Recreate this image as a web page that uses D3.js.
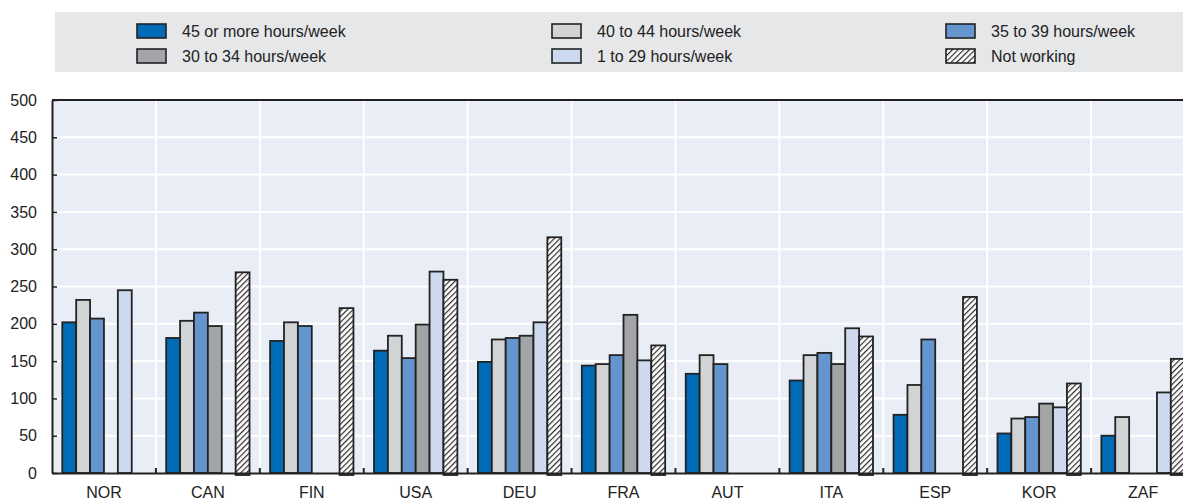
<!DOCTYPE html>
<html>
<head>
<meta charset="utf-8">
<script src="https://cdn.jsdelivr.net/npm/d3@7"></script>
<style>
  body { margin: 0; background: #fff; }
  svg text { font-family: "Liberation Sans Narrow", "Arial Narrow", "Liberation Sans", sans-serif; fill: #222; }
</style>
</head>
<body>
<div class="chart"></div>
<script>
// data
var countries = ["NOR", "CAN", "FIN", "USA", "DEU", "FRA", "AUT", "ITA", "ESP", "KOR", "ZAF"];
var seriesNames = ["45 or more hours/week", "40 to 44 hours/week", "35 to 39 hours/week",
                   "30 to 34 hours/week", "1 to 29 hours/week", "Not working"];
var h45plus = [202, 181, 177, 164, 149, 144, 133, 124, 78, 53, 50];
var h40to44 = [232, 204, 202, 184, 179, 146, 158, 158, 118, 73, 75];
var h35to39 = [207, 215, 197, 154, 181, 158, 146, 161, 179, 75, null];
var h30to34 = [null, 197, null, 199, 184, 212, null, 146, null, 93, null];
var h1to29  = [245, null, null, 270, 202, 151, null, 194, null, 88, 108];
var notWork = [null, 269, 221, 259, 316, 171, null, 183, 236, 120, 153];
var yTicks = [0, 50, 100, 150, 200, 250, 300, 350, 400, 450, 500];

var allSeries = [h45plus, h40to44, h35to39, h30to34, h1to29, notWork];
var colors = ["#006BB6", "#D2D3D5", "#6495CF", "#A3A4A8", "#CDD9EE", "url(#hatch)"];

var width = 1183;
var height = 500;
var plotLeft = 52, plotRight = 1195, plotTop = 100, plotBottom = 473;

var svg = d3.select(".chart")
            .append("svg")
            .attr("width", width)
            .attr("height", height);

// hatch pattern for "Not working"
var pat = svg.append("defs")
             .append("pattern")
             .attr("id", "hatch")
             .attr("patternUnits", "userSpaceOnUse")
             .attr("width", 4)
             .attr("height", 4)
             .attr("patternTransform", "rotate(45)");
pat.append("rect").attr("width", 4).attr("height", 4).attr("fill", "#fff");
pat.append("line")
   .attr("x1", 0).attr("y1", 0).attr("x2", 0).attr("y2", 4)
   .attr("stroke", "#2a2a2a").attr("stroke-width", 2.4);

// legend
svg.append("rect")
   .attr("x", 55).attr("y", 12)
   .attr("width", width - 55).attr("height", 60)
   .attr("fill", "#E6E7E9");

var legendX = [137, 552, 946];
var legendY = [31, 56];
seriesNames.forEach(function(name, i) {
  var lx = legendX[i % 3];
  var ly = legendY[Math.floor(i / 3)];
  svg.append("rect")
     .attr("x", lx).attr("y", ly - 7)
     .attr("width", 29).attr("height", 14)
     .attr("fill", colors[i])
     .attr("stroke", "#222")
     .attr("stroke-width", 1.6);
  svg.append("text")
     .attr("x", lx + 45).attr("y", ly)
     .attr("dy", "0.35em")
     .style("font-size", "16px")
     .text(name);
});

// scales
var xScale = d3.scaleBand()
               .domain(countries)
               .range([plotLeft, plotRight]);
var x1 = d3.scaleBand()
           .domain(d3.range(seriesNames.length))
           .range([0, xScale.bandwidth()])
           .paddingOuter(0.74);
var yScale = d3.scaleLinear()
               .domain([0, 500])
               .range([plotBottom, plotTop]);

// plot background
svg.append("rect")
   .attr("x", plotLeft).attr("y", plotTop)
   .attr("width", plotRight - plotLeft).attr("height", plotBottom - plotTop)
   .attr("fill", "#E9EDF6");

// grid
svg.selectAll(".hgrid")
   .data(yTicks.slice(1))
   .enter()
   .append("line")
   .attr("x1", plotLeft).attr("x2", plotRight)
   .attr("y1", d => yScale(d)).attr("y2", d => yScale(d))
   .attr("stroke", "#fff")
   .attr("stroke-width", 2);
svg.selectAll(".vgrid")
   .data(countries.slice(1))
   .enter()
   .append("line")
   .attr("x1", d => xScale(d)).attr("x2", d => xScale(d))
   .attr("y1", plotTop).attr("y2", plotBottom)
   .attr("stroke", "#fff")
   .attr("stroke-width", 2);

// top border
svg.append("line")
   .attr("x1", plotLeft).attr("x2", plotRight)
   .attr("y1", plotTop).attr("y2", plotTop)
   .attr("stroke", "#222").attr("stroke-width", 2);

// bars
allSeries.forEach(function(vals, s) {
  svg.append("g")
     .selectAll("rect")
     .data(countries.map((c, i) => ({ c: c, v: vals[i] })).filter(d => d.v !== null))
     .enter()
     .append("rect")
     .attr("x", d => xScale(d.c) + x1(s))
     .attr("y", d => yScale(d.v))
     .attr("width", x1.bandwidth())
     .attr("height", d => yScale(0) - yScale(d.v) + (s === 5 ? 2 : 0))
     .attr("fill", colors[s])
     .attr("stroke", "#222")
     .attr("stroke-width", 1.8);
});

// axes
var yAxis = d3.axisLeft(yScale)
              .tickValues(yTicks)
              .tickSize(-5)
              .tickPadding(15)
              .tickSizeOuter(0);
var gy = svg.append("g")
            .attr("id", "y-axis")
            .attr("transform", "translate(" + plotLeft + ",0)")
            .call(yAxis);
gy.select(".domain").attr("stroke", "#222").attr("stroke-width", 2);
gy.selectAll(".tick line").attr("stroke", "#222").attr("stroke-width", 1.5);
gy.selectAll("text").style("font-size", "16px");

var xAxis = d3.axisBottom(xScale)
              .tickSize(0)
              .tickPadding(14);
var gx = svg.append("g")
            .attr("id", "x-axis")
            .attr("transform", "translate(0," + plotBottom + ")")
            .call(xAxis);
gx.select(".domain").attr("stroke", "#222").attr("stroke-width", 2.2);
gx.selectAll("text").style("font-size", "16px");

// little ticks between groups
svg.selectAll(".xtick")
   .data(countries.slice(1))
   .enter()
   .append("line")
   .attr("x1", d => xScale(d)).attr("x2", d => xScale(d))
   .attr("y1", plotBottom).attr("y2", plotBottom - 5)
   .attr("stroke", "#222")
   .attr("stroke-width", 2);
</script>
</body>
</html>
